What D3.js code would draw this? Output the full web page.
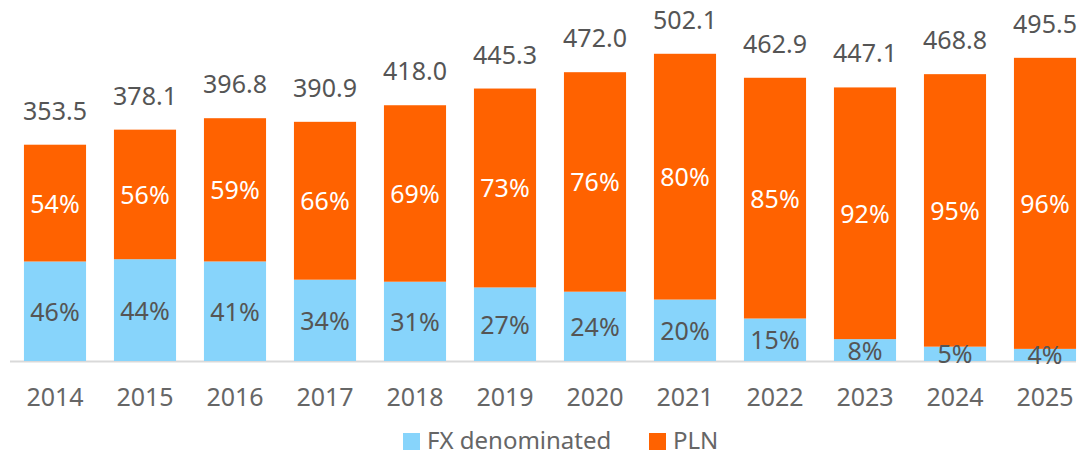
<!DOCTYPE html>
<html>
<head>
<meta charset="utf-8">
<script src="https://cdn.jsdelivr.net/npm/d3@7"></script>
<style>
  body { margin: 0; background: #fff; }
  svg { display: block; font-family: "Noto Sans", sans-serif; }
</style>
</head>
<body>
<svg id="chart" width="1084" height="456"></svg>
<script>
// data
const years = ["2014", "2015", "2016", "2017", "2018", "2019", "2020", "2021", "2022", "2023", "2024", "2025"];
const totals = [353.5, 378.1, 396.8, 390.9, 418.0, 445.3, 472.0, 502.1, 462.9, 447.1, 468.8, 495.5];
const fxShare = [46, 44, 41, 34, 31, 27, 24, 20, 15, 8, 5, 4];
const plnShare = [54, 56, 59, 66, 69, 73, 76, 80, 85, 92, 95, 96];
const seriesNames = ["FX denominated", "PLN"];
const colors = ["#87D4FB", "#FF6200"];

const svg = d3.select("#chart");
const baseY = 361;

const x = d3.scaleBand().domain(years).range([10, 1090]).paddingInner(0.31).paddingOuter(0.155);
const y = d3.scaleLinear().domain([0, 590]).range([baseY, 0]);

// build stack rows
const rows = years.map((yr, i) => ({
  year: yr,
  fx: totals[i] * fxShare[i] / 100,
  pln: totals[i] * plnShare[i] / 100,
  fxPct: fxShare[i],
  plnPct: plnShare[i],
  total: totals[i]
}));
const stack = d3.stack().keys(["fx", "pln"])(rows);

// axis line
svg.append("line")
  .attr("x1", 10).attr("x2", 1076)
  .attr("y1", baseY + 0.5).attr("y2", baseY + 0.5)
  .attr("stroke", "#d9d9d9").attr("stroke-width", 2);

const layers = svg.selectAll("g.layer").data(stack).join("g")
  .attr("class", "layer")
  .attr("fill", (d, i) => colors[i]);

layers.selectAll("rect").data(d => d).join("rect")
  .attr("x", d => x(d.data.year))
  .attr("width", x.bandwidth())
  .attr("y", d => y(d[1]))
  .attr("height", d => y(d[0]) - y(d[1]));

// segment labels
stack.forEach((layer, li) => {
  svg.append("g").selectAll("text").data(layer).join("text")
    .attr("x", d => x(d.data.year) + x.bandwidth() / 2)
    .attr("y", d => (y(d[0]) + y(d[1])) / 2)
    .attr("dy", "0.38em")
    .attr("text-anchor", "middle")
    .attr("font-size", 25)
    .attr("fill", li === 0 ? "#555" : "#fff")
    .text(d => (li === 0 ? d.data.fxPct : d.data.plnPct) + "%");
});

// totals above bars
svg.append("g").selectAll("text").data(rows).join("text")
  .attr("x", d => x(d.year) + x.bandwidth() / 2)
  .attr("y", d => y(d.total) - 25)
  .attr("text-anchor", "middle")
  .attr("font-size", 25)
  .attr("fill", "#555")
  .text(d => d.total.toFixed(1));

// x axis labels
const xAxis = svg.append("g")
  .attr("transform", `translate(0,${baseY})`)
  .call(d3.axisBottom(x).tickSize(0).tickPadding(27));
xAxis.select(".domain").remove();
xAxis.selectAll("text")
  .attr("font-size", 25)
  .attr("fill", "#666")
  .attr("font-family", "Noto Sans, sans-serif");

// legend
const legendX = [403, 649];
const legend = svg.append("g").selectAll("g").data(seriesNames).join("g")
  .attr("transform", (d, i) => `translate(${legendX[i]},433)`);
legend.append("rect")
  .attr("width", 17).attr("height", 17)
  .attr("fill", (d, i) => colors[i]);
legend.append("text")
  .attr("x", 24).attr("y", 16)
  .attr("font-size", 24)
  .attr("fill", "#666")
  .text(d => d);
</script>
</body>
</html>
